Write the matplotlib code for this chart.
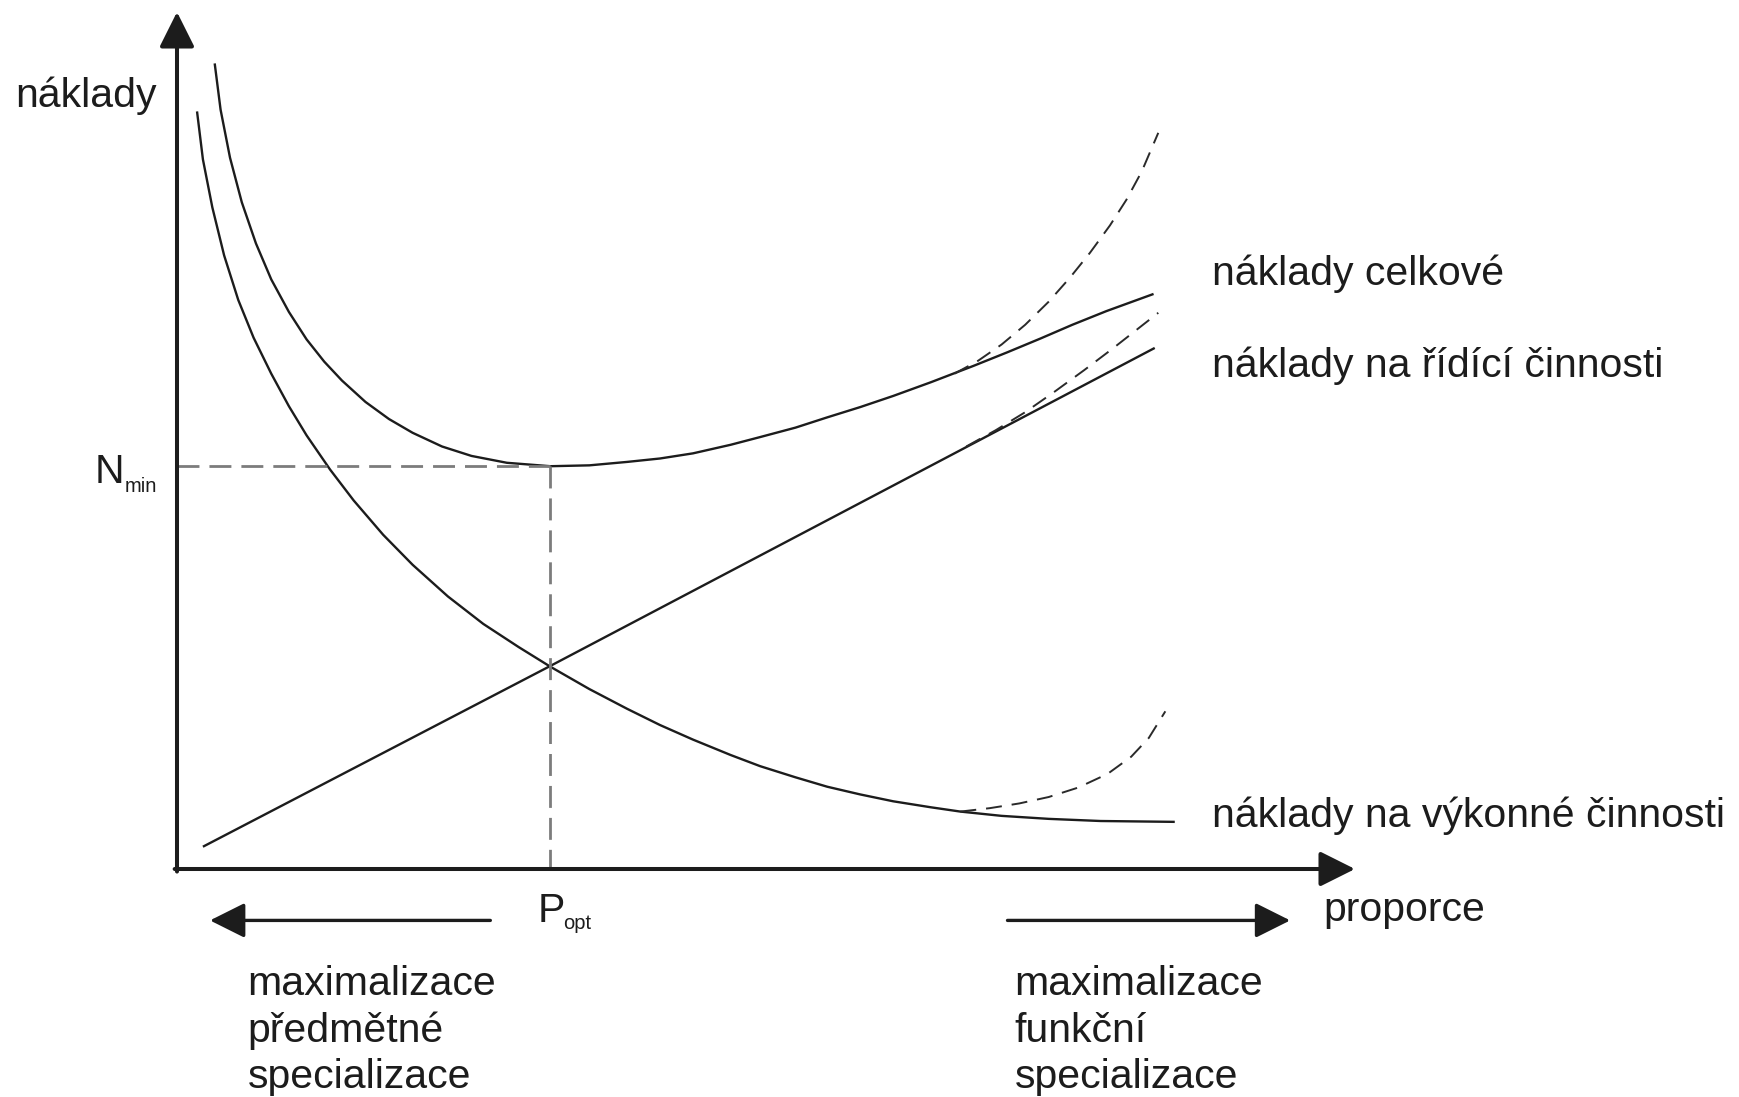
#!/usr/bin/env python3
"""
Náklady na výkonné a řídící činnosti v závislosti na proporci (schéma optima P_opt / N_min).

Output:
- out.png (1739x1097 px)
"""

import matplotlib
matplotlib.use("Agg")
import matplotlib.pyplot as plt

# Values; x = proporce, y = náklady, both axes run 0..10
TOTAL_X = [0.32, 0.37, 0.45, 0.55, 0.67, 0.80, 0.95, 1.10, 1.25, 1.40, 1.60, 1.80,
           2.00, 2.25, 2.50, 2.80, 3.17, 3.50, 3.82, 4.10, 4.38, 4.70, 4.95, 5.25,
           5.52, 5.80, 6.08, 6.40, 6.76, 7.05, 7.33, 7.60, 7.89, 8.29]
TOTAL_Y = [9.40, 8.86, 8.30, 7.78, 7.30, 6.88, 6.50, 6.18, 5.92, 5.70, 5.45, 5.25,
           5.09, 4.93, 4.82, 4.74, 4.70, 4.71, 4.75, 4.79, 4.85, 4.95, 5.04, 5.15,
           5.27, 5.39, 5.52, 5.68, 5.87, 6.03, 6.19, 6.35, 6.51, 6.71]

EXEC_X = [0.17, 0.22, 0.30, 0.40, 0.52, 0.65, 0.80, 0.95, 1.10, 1.30, 1.50, 1.75,
          2.00, 2.30, 2.60, 2.90, 3.17, 3.50, 3.82, 4.10, 4.38, 4.70, 4.95, 5.25,
          5.52, 5.80, 6.08, 6.40, 6.65, 7.00, 7.40, 7.84, 8.47]
EXEC_Y = [8.84, 8.28, 7.72, 7.16, 6.64, 6.20, 5.78, 5.40, 5.06, 4.66, 4.30, 3.90,
          3.55, 3.18, 2.86, 2.59, 2.36, 2.10, 1.87, 1.68, 1.51, 1.33, 1.20, 1.07,
          0.96, 0.87, 0.79, 0.72, 0.67, 0.62, 0.585, 0.56, 0.55]

MGMT_X = [0.22, 3.17, 8.30]
MGMT_Y = [0.26, 2.37, 6.08]

# dashed (rychleji rostoucí) varianty na pravém konci
TOTAL_DASH_X = [6.60, 6.80, 7.00, 7.20, 7.40, 7.58, 7.75, 7.92, 8.06, 8.19, 8.33]
TOTAL_DASH_Y = [5.78, 5.93, 6.12, 6.35, 6.62, 6.90, 7.19, 7.51, 7.81, 8.14, 8.59]
MGMT_DASH_X = [6.70, 6.95, 7.20, 7.45, 7.70, 7.95, 8.20, 8.33]
MGMT_DASH_Y = [4.93, 5.12, 5.33, 5.57, 5.82, 6.08, 6.35, 6.49]
EXEC_DASH_X = [6.65, 6.90, 7.15, 7.40, 7.65, 7.90, 8.10, 8.25, 8.39]
EXEC_DASH_Y = [0.67, 0.71, 0.765, 0.84, 0.95, 1.11, 1.31, 1.53, 1.84]

P_OPT = 3.17
N_MIN = 4.70

CURVE_LABELS = ["náklady celkové", "náklady na řídící činnosti", "náklady na výkonné činnosti"]
LEFT_NOTE = ["maximalizace", "předmětné", "specializace"]
RIGHT_NOTE = ["maximalizace", "funkční", "specializace"]

INK = "#1c1c1c"
GUIDE = "#7c7c7c"
FONT_SIZE = 29.5
SUB_SIZE = 14.5


def draw_curves(ax):
    solid = dict(color=INK, lw=1.7, solid_capstyle="butt", solid_joinstyle="round")
    ax.plot(TOTAL_X, TOTAL_Y, **solid)
    ax.plot(EXEC_X, EXEC_Y, **solid)
    ax.plot(MGMT_X, MGMT_Y, **solid)

    dashed = dict(color="#2a2a2a", lw=1.4, linestyle=(0, (8.2, 5.1)))
    ax.plot(TOTAL_DASH_X, TOTAL_DASH_Y, **dashed)
    ax.plot(MGMT_DASH_X, MGMT_DASH_Y, **dashed)
    ax.plot(EXEC_DASH_X, EXEC_DASH_Y, **dashed)

    # guides to the optimum
    guide = dict(color=GUIDE, lw=2.0, linestyle=(0, (7.9, 3.6)))
    ax.plot([0, P_OPT], [N_MIN, N_MIN], **guide)
    ax.plot([P_OPT, P_OPT], [N_MIN, 0], **guide)


def draw_axes(ax):
    head = dict(arrowstyle="-|>,head_length=0.6,head_width=0.3", mutation_scale=36,
                lw=2.9, color=INK, shrinkA=0, shrinkB=0)
    ax.annotate("", xy=(10, 0), xytext=(-0.02, 0), arrowprops=head, annotation_clip=False)
    ax.annotate("", xy=(0, 10), xytext=(0, -0.03), arrowprops=head, annotation_clip=False)

    side = dict(arrowstyle="-|>,head_length=0.6,head_width=0.3", mutation_scale=36,
                lw=2.4, color=INK, shrinkA=0, shrinkB=0)
    ax.annotate("", xy=(0.28, -0.60), xytext=(2.66, -0.60), arrowprops=side, annotation_clip=False)
    ax.annotate("", xy=(9.45, -0.60), xytext=(7.05, -0.60), arrowprops=side, annotation_clip=False)


def draw_text(ax):
    txt = dict(color=INK, fontsize=FONT_SIZE, va="baseline", ha="left", clip_on=False)
    sub = dict(color=INK, fontsize=SUB_SIZE, va="baseline", ha="left", clip_on=False)

    ax.text(-1.375, 8.89, "náklady", **txt)
    ax.text(9.73, -0.61, "proporce", **txt)

    ax.text(-0.70, 4.50, "N", **txt)
    ax.text(-0.44, 4.40, "min", **sub)
    ax.text(3.06, -0.62, "P", **txt)
    ax.text(3.28, -0.70, "opt", **sub)

    for label, y in zip(CURVE_LABELS, [6.81, 5.74, 0.49]):
        ax.text(8.79, y, label, **txt)

    for i, (left, right) in enumerate(zip(LEFT_NOTE, RIGHT_NOTE)):
        y = -1.47 - i * 0.545
        ax.text(0.60, y, left, **txt)
        ax.text(7.11, y, right, **txt)


def main():
    plt.rcParams["font.family"] = ["Liberation Sans", "DejaVu Sans"]
    fig = plt.figure(figsize=(17.39, 10.97), dpi=100)
    fig.patch.set_facecolor("white")
    ax = fig.add_axes([177 / 1739, 228 / 1097, 1178 / 1739, 857 / 1097])
    ax.set_xlim(0, 10)
    ax.set_ylim(0, 10)
    ax.axis("off")

    draw_curves(ax)
    draw_axes(ax)
    draw_text(ax)

    fig.savefig("out.png", dpi=100)
    plt.close(fig)


if __name__ == "__main__":
    main()
